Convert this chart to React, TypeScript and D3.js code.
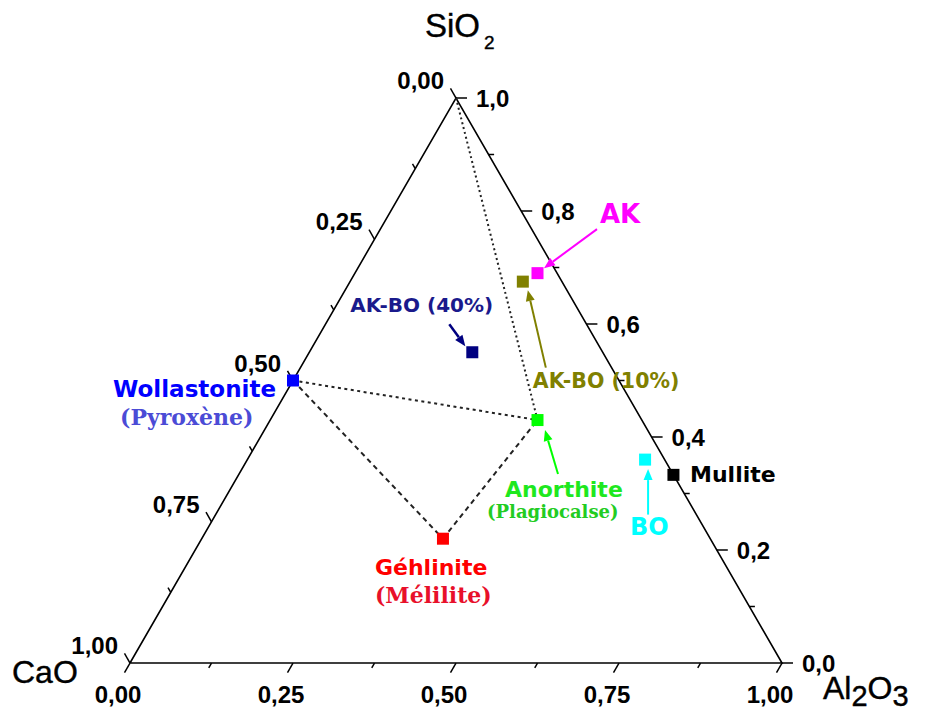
import React from "react";
import * as d3 from "d3";

const W = 928;
const H = 713;

// ---- data ----
const pointNames = ["Wollastonite", "Géhlinite", "Anorthite", "AK", "AK-BO (10%)", "AK-BO (40%)", "BO", "Mullite"];
const caoValues = [0.5, 0.41, 0.16, 0.03, 0.06, 0.2, 0.03, 0.0];
const al2o3Values = [0.0, 0.37, 0.41, 0.28, 0.265, 0.25, 0.61, 0.667];
const sio2Values = [0.5, 0.22, 0.43, 0.69, 0.675, 0.55, 0.36, 0.333];
const pointColors = ["#0000ff", "#ff0000", "#00ff00", "#ff00ff", "#808000", "#000080", "#00ffff", "#000000"];

const majorTicks = [0, 0.25, 0.5, 0.75, 1];
const minorTicks = [0.125, 0.375, 0.625, 0.875];
const bottomTickLabels = ["0,00", "0,25", "0,50", "0,75", "1,00"];
const leftTickLabels = ["0,00", "0,25", "0,50", "0,75", "1,00"];
const rightMajorTicks = [0, 0.2, 0.4, 0.6, 0.8, 1.0];
const rightMinorTicks = [0.1, 0.3, 0.5, 0.7, 0.9];
const rightTickLabels = ["0,0", "0,2", "0,4", "0,6", "0,8", "1,0"];

const tieLineFrom = ["SiO2", "Wollastonite", "Wollastonite", "Géhlinite"];
const tieLineTo = ["Anorthite", "Anorthite", "Géhlinite", "Anorthite"];
const tieLineDash = ["2,3", "3,3.5", "5,4", "5,4"];

// ---- layout ----
const xScale = d3.scaleLinear().domain([0, 1]).range([130, 782]);
const yScale = d3.scaleLinear().domain([0, 1]).range([663, 98]);
const project = (c: number, a: number, s: number): [number, number] => {
  const t = c + a + s;
  return [xScale(a / t + s / t / 2), yScale(s / t)];
};

const SANS = "'Liberation Sans', Arial, sans-serif";
const DJ = "'DejaVu Sans', Verdana, sans-serif";
const SERIF = "'DejaVu Serif', serif";

type Lbl = { text: string; dx: number; dy: number; font: string; size: number; color: string };
type Ann = { labels: Lbl[]; arrow?: { tail: [number, number]; tip: [number, number]; color: string; w: number } };

const annotations: Record<string, Ann> = {
  Wollastonite: {
    labels: [
      { text: "Wollastonite", dx: -180, dy: 16.5, font: DJ, size: 23, color: "#0000ff" },
      { text: "(Pyroxène)", dx: -173, dy: 44.5, font: SERIF, size: 22, color: "#4b4bd6" },
    ],
  },
  "Géhlinite": {
    labels: [
      { text: "Géhlinite", dx: -68, dy: 36, font: DJ, size: 22, color: "#ff0000" },
      { text: "(Mélilite)", dx: -68, dy: 64, font: SERIF, size: 22, color: "#e8102a" },
    ],
  },
  Anorthite: {
    labels: [
      { text: "Anorthite", dx: -32.5, dy: 77, font: DJ, size: 22, color: "#1ee81e" },
      { text: "(Plagiocalse)", dx: -50.5, dy: 98, font: SERIF, size: 18, color: "#22cc22" },
    ],
    arrow: { tail: [20.5, 54], tip: [7.5, 10], color: "#00ff00", w: 2 },
  },
  AK: {
    labels: [{ text: "AK", dx: 62.5, dy: -50, font: DJ, size: 26, color: "#ff00ff" }],
    arrow: { tail: [59.5, -44], tip: [6.5, -5], color: "#ff00ff", w: 2 },
  },
  "AK-BO (10%)": {
    labels: [{ text: "AK-BO (10%)", dx: 10, dy: 106, font: DJ, size: 20.5, color: "#808000" }],
    arrow: { tail: [23, 86], tip: [5, 8.5], color: "#808000", w: 2 },
  },
  "AK-BO (40%)": {
    labels: [{ text: "AK-BO (40%)", dx: -122, dy: -40, font: DJ, size: 20, color: "#1a1a8c" }],
    arrow: { tail: [-23, -28], tip: [-7, -6], color: "#000080", w: 2.5 },
  },
  BO: {
    labels: [{ text: "BO", dx: -15, dy: 75.5, font: DJ, size: 24, color: "#00ffff" }],
    arrow: { tail: [3, 55], tip: [3, 9.5], color: "#00ffff", w: 2 },
  },
  Mullite: {
    labels: [{ text: "Mullite", dx: 16.6, dy: 7.5, font: DJ, size: 22, color: "#000000" }],
  },
};

function arrowShape(sx: number, sy: number, tx: number, ty: number) {
  const dx = tx - sx;
  const dy = ty - sy;
  const len = Math.hypot(dx, dy);
  const ux = dx / len;
  const uy = dy / len;
  const hl = 11;
  const hw = 4.5;
  const bx = tx - ux * hl;
  const by = ty - uy * hl;
  const nx = -uy;
  const ny = ux;
  return {
    line: [sx, sy, bx, by],
    head: `${tx},${ty} ${bx + nx * hw},${by + ny * hw} ${bx - nx * hw},${by - ny * hw}`,
  };
}

export default function App() {
  const cA = project(1, 0, 0);
  const cB = project(0, 1, 0);
  const cC = project(0, 0, 1);
  const tri = d3.line()([cA, cB, cC, cA]) || "";

  const pts = pointNames.map((n, i) => ({
    name: n,
    p: project(caoValues[i], al2o3Values[i], sio2Values[i]),
    color: pointColors[i],
  }));
  const posOf = (n: string): [number, number] =>
    n === "SiO2" ? cC : pts.find((d) => d.name === n)!.p;

  const s3 = Math.sqrt(3) / 2;
  const leftDir: [number, number] = [-0.5, -s3];
  const bottomDir: [number, number] = [-0.5, s3];
  const rightDir: [number, number] = [1, 0];

  const tick = (p: [number, number], d: [number, number], len: number, key: string) => (
    <line key={key} x1={p[0]} y1={p[1]} x2={p[0] + d[0] * len} y2={p[1] + d[1] * len} stroke="#000" strokeWidth={1.5} />
  );

  return (
    <svg width={W} height={H} style={{ position: "absolute", left: 0, top: 0, background: "#fff" }}>
      <rect width={W} height={H} fill="#fff" />
      <path d={tri} fill="none" stroke="#000" strokeWidth={1.6} strokeLinejoin="miter" />

      {/* bottom axis (Al2O3) */}
      {majorTicks.map((v, i) => {
        const p = project(1 - v, v, 0);
        return (
          <g key={"b" + i}>
            {tick(p, bottomDir, 11, "bt" + i)}
            <text x={p[0] - 12} y={703} textAnchor="middle" fontFamily={SANS} fontWeight="bold" fontSize={24}>
              {bottomTickLabels[i]}
            </text>
          </g>
        );
      })}
      {minorTicks.map((v, i) => tick(project(1 - v, v, 0), bottomDir, 5.5, "bm" + i))}

      {/* left axis (CaO) */}
      {majorTicks.map((v, i) => {
        const p = project(v, 0, 1 - v);
        return (
          <g key={"l" + i}>
            {tick(p, leftDir, 11, "lt" + i)}
            <text x={p[0] - 12} y={p[1] - 9} textAnchor="end" fontFamily={SANS} fontWeight="bold" fontSize={24}>
              {leftTickLabels[i]}
            </text>
          </g>
        );
      })}
      {minorTicks.map((v, i) => tick(project(v, 0, 1 - v), leftDir, 5.5, "lm" + i))}

      {/* right axis (SiO2) */}
      {rightMajorTicks.map((v, i) => {
        const p = project(0, 1 - v, v);
        return (
          <g key={"r" + i}>
            {tick(p, rightDir, 11, "rt" + i)}
            <text x={p[0] + 20} y={p[1] + 8.5} textAnchor="start" fontFamily={SANS} fontWeight="bold" fontSize={24}>
              {rightTickLabels[i]}
            </text>
          </g>
        );
      })}
      {rightMinorTicks.map((v, i) => tick(project(0, 1 - v, v), rightDir, 5.5, "rm" + i))}

      {/* vertex titles */}
      <text x={425} y={37} fontFamily={SANS} fontSize={33} fill="#000" stroke="#000" strokeWidth={0.4}>
        SiO
        <tspan fontSize={19} dx={4} dy={12}>2</tspan>
      </text>
      <text x={12} y={683} fontFamily={SANS} fontSize={32} fill="#000" stroke="#000" strokeWidth={0.4}>CaO</text>
      <text x={823} y={699} fontFamily={SANS} fontSize={32} fill="#000" stroke="#000" strokeWidth={0.4}>
        Al
        <tspan fontSize={29} dy={7}>2</tspan>
        <tspan dy={-7}>O</tspan>
        <tspan fontSize={29} dy={7}>3</tspan>
      </text>

      {/* tie lines */}
      {tieLineFrom.map((f, i) => {
        const a = posOf(f);
        const b = posOf(tieLineTo[i]);
        return (
          <line key={"tl" + i} x1={a[0]} y1={a[1]} x2={b[0]} y2={b[1]} stroke="#222" strokeWidth={2} strokeDasharray={tieLineDash[i]} />
        );
      })}

      {/* points */}
      {pts.map((d) => (
        <rect key={d.name} x={d.p[0] - 6} y={d.p[1] - 6} width={12} height={12} fill={d.color} />
      ))}

      {/* arrows */}
      {pts.map((d) => {
        const a = annotations[d.name];
        if (!a || !a.arrow) return null;
        const s = arrowShape(d.p[0] + a.arrow.tail[0], d.p[1] + a.arrow.tail[1], d.p[0] + a.arrow.tip[0], d.p[1] + a.arrow.tip[1]);
        return (
          <g key={"ar" + d.name}>
            <line x1={s.line[0]} y1={s.line[1]} x2={s.line[2]} y2={s.line[3]} stroke={a.arrow.color} strokeWidth={a.arrow.w} />
            <polygon points={s.head} fill={a.arrow.color} />
          </g>
        );
      })}

      {/* labels */}
      {pts.map((d) => {
        const a = annotations[d.name];
        if (!a) return null;
        return a.labels.map((l, j) => (
          <text key={d.name + j} x={d.p[0] + l.dx} y={d.p[1] + l.dy} fontFamily={l.font} fontWeight="bold" fontSize={l.size} fill={l.color}>
            {l.text}
          </text>
        ));
      })}
    </svg>
  );
}
